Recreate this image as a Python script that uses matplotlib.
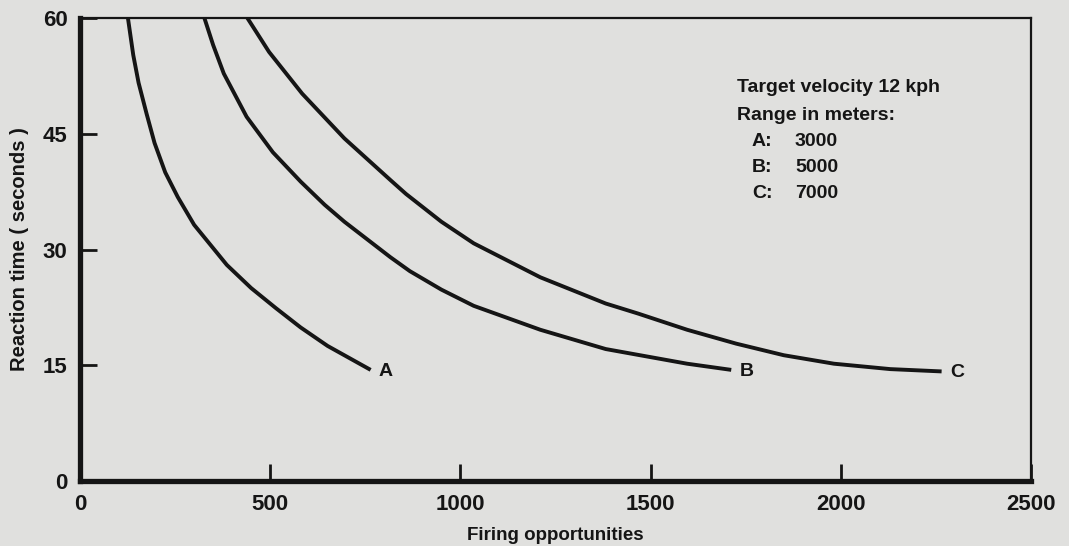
import matplotlib.pyplot as plt

# curves (x = firing opportunities, y = reaction time in s)
aX = [126, 140, 154, 175, 196, 224, 257, 300, 386, 450, 515, 580, 651, 764]
aY = [60, 55.2, 51.6, 47.6, 43.8, 40.0, 36.8, 33.2, 28.0, 25.0, 22.4, 19.9, 17.5, 14.4]
bX = [327, 350, 378, 438, 507, 580, 643, 695, 816, 867, 950, 1035, 1210, 1382, 1596, 1712]
bY = [60, 56.5, 52.8, 47.2, 42.6, 38.8, 35.8, 33.6, 29.0, 27.2, 24.8, 22.7, 19.6, 17.1, 15.2, 14.4]
cX = [440, 497, 584, 695, 816, 857, 950, 1035, 1210, 1382, 1467, 1596, 1725, 1850, 1982, 2130, 2265]
cY = [60, 55.6, 50.2, 44.4, 39.0, 37.2, 33.6, 30.8, 26.4, 23.0, 21.7, 19.6, 17.8, 16.3, 15.2, 14.5, 14.2]
curveNames = ['A', 'B', 'C']
xTicks = [0, 500, 1000, 1500, 2000, 2500]
yTicks = [0, 15, 30, 45, 60]
legendLines = ['Target velocity 12 kph', 'Range in meters:']
ranges = ['3000', '5000', '7000']

paper = '#e0e0de'
ink = '#151515'
font = 'Liberation Sans'

fig = plt.figure(figsize=(10.69, 5.46), dpi=100, facecolor=paper)
ax = fig.add_axes([80 / 1069, 1 - 481 / 546, 951 / 1069, 463 / 546])
ax.set_facecolor(paper)

for x, y, name in zip([aX, bX, cX], [aY, bY, cY], curveNames):
    ax.plot(x, y, color=ink, lw=2.8, solid_capstyle='butt', solid_joinstyle='round')
    ax.annotate(name, (x[-1], y[-1]), xytext=(6, -1), textcoords='offset points',
                ha='left', va='center', fontsize=14, fontweight='bold',
                family=font, color=ink)

ax.set_xlim(0, 2500)
ax.set_ylim(0, 60)
ax.set_xticks(xTicks)
ax.set_yticks(yTicks)
ax.tick_params(direction='in', length=12, width=2, colors=ink, labelsize=16, pad=9)
for lab in ax.get_xticklabels() + ax.get_yticklabels():
    lab.set_fontweight('bold')
    lab.set_family(font)

for side in ['left', 'bottom']:
    ax.spines[side].set_linewidth(3.8)
for side in ['top', 'right']:
    ax.spines[side].set_linewidth(1.6)
for sp in ax.spines.values():
    sp.set_color(ink)

ax.set_xlabel('Firing opportunities', fontsize=13.5, fontweight='bold', family=font,
              color=ink, labelpad=9)
ax.set_ylabel('Reaction time ( seconds )', fontsize=14.5, fontweight='bold', family=font,
              color=ink, labelpad=10)

# legend block in the upper right
tx = (737 - 80) / 951
ax.text(tx, 1 - (87 - 18) / 463, legendLines[0], transform=ax.transAxes, va='center',
        fontsize=14, fontweight='bold', family=font, color=ink)
ax.text(tx, 1 - (116 - 18) / 463, legendLines[1], transform=ax.transAxes, va='center',
        fontsize=14, fontweight='bold', family=font, color=ink)
for i, (name, r) in enumerate(zip(curveNames, ranges)):
    yy = 1 - (142 + 25.5 * i - 18) / 463
    ax.text((752 - 80) / 951, yy, name + ':', transform=ax.transAxes, va='center',
            fontsize=14, fontweight='bold', family=font, color=ink)
    ax.text((795 - 80) / 951, yy, r, transform=ax.transAxes, va='center',
            fontsize=14, fontweight='bold', family=font, color=ink)

plt.savefig('out.png', dpi=100, facecolor=paper)
